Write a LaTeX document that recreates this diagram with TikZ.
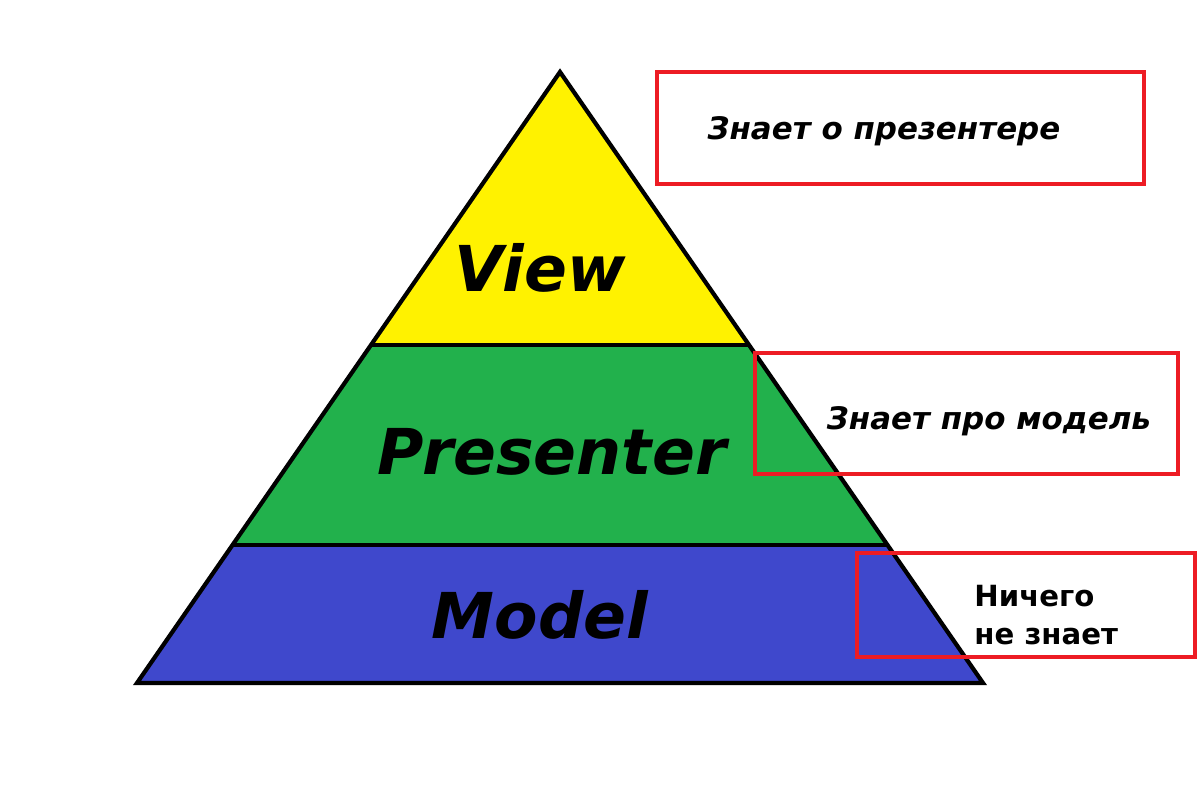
\documentclass[tikz,border=0pt]{standalone}
\usepackage{fontspec}
\setmainfont{DejaVu Sans}
\definecolor{tierYellow}{HTML}{FFF200}
\definecolor{tierGreen}{HTML}{22B14C}
\definecolor{tierBlue}{HTML}{3F48CC}
\definecolor{boxRed}{HTML}{ED1C24}
\begin{document}
\begin{tikzpicture}[
    tier/.style={draw=black,line width=1.2pt,line join=miter},
    tiername/.style={font=\fontsize{18}{20}\selectfont\bfseries\itshape},
    notebox/.style={draw=boxRed,line width=1.3pt,minimum width=#1,inner sep=0pt},
    notetext/.style={font=\fontsize{8.8}{12}\selectfont\bfseries\itshape}
  ]
  \useasboundingbox (0,0) rectangle (12,8);

  \fill[tierYellow] (3.71,4.55) -- (5.60,7.28) -- (7.49,4.55) -- cycle;
  \fill[tierGreen]  (2.33,2.55) -- (3.71,4.55) -- (7.49,4.55) -- (8.87,2.55) -- cycle;
  \fill[tierBlue]   (1.37,1.17) -- (2.33,2.55) -- (8.87,2.55) -- (9.83,1.17) -- cycle;

  \draw[tier] (1.37,1.17) -- (5.60,7.28) -- (9.83,1.17) -- cycle;
  \draw[tier] (3.71,4.55) -- (7.49,4.55);
  \draw[tier] (2.33,2.55) -- (8.87,2.55);

  \node[tiername] (view)      at (5.40,5.32) {View};
  \node[tiername] (presenter) at (5.52,3.48) {Presenter};
  \node[tiername] (model)     at (5.40,1.85) {Model};

  \node[notebox=4.87cm,minimum height=1.12cm] (boxview)      at (9.005,6.72) {};
  \node[notebox=4.23cm,minimum height=1.21cm] (boxpresenter) at (9.665,3.865) {};
  \node[notebox=3.38cm,minimum height=1.04cm] (boxmodel)     at (10.26,1.95) {};

  \node[notetext] (noteview)      at (8.84,6.69) {Знает о презентере};
  \node[notetext] (notepresenter) at (9.89,3.79) {Знает про модель};
  \node[notetext,font=\fontsize{8.3}{10.8}\selectfont\bfseries,align=left,anchor=west]
    (notemodel) at (9.62,1.85) {Ничего\\не знает};
\end{tikzpicture}
\end{document}
